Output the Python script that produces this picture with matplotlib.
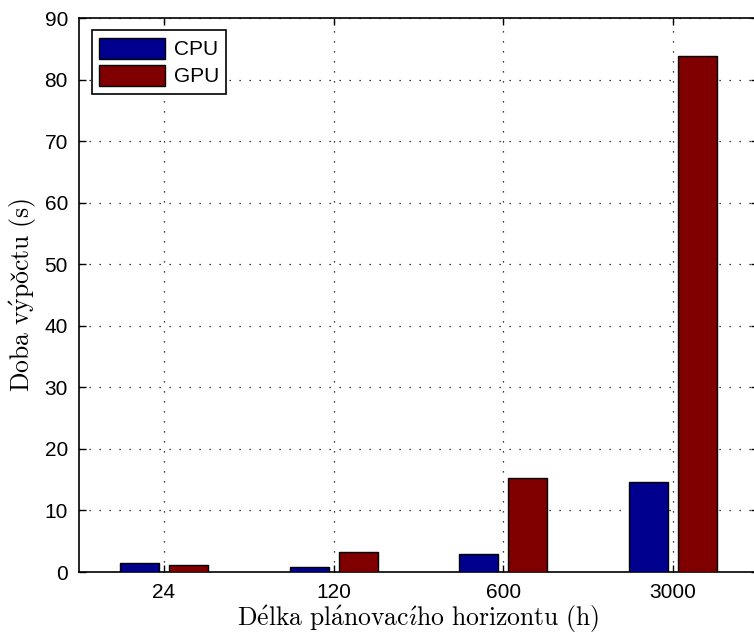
import numpy as np
import matplotlib
matplotlib.use('Agg')
import matplotlib.pyplot as plt

# Data
horizons = ['24', '120', '600', '3000']
cpu_times = [1.5, 0.85, 3.0, 14.6]
gpu_times = [1.1, 3.3, 15.3, 83.8]

plt.rcParams['font.family'] = ['Liberation Sans', 'DejaVu Sans']
plt.rcParams['mathtext.fontset'] = 'cm'

fig = plt.figure(figsize=(7.54, 6.34), dpi=100)
ax = fig.add_axes([79 / 754, 62 / 634, 679 / 754, 554 / 634])

x = np.arange(1, len(horizons) + 1)
w = 0.23
ax.bar(x - 0.144, cpu_times, w, color='#00008f', edgecolor='black', linewidth=1, label='CPU', zorder=3)
ax.bar(x + 0.144, gpu_times, w, color='#800000', edgecolor='black', linewidth=1, label='GPU', zorder=3)

ax.set_xlim(0.5, 4.5)
ax.set_ylim(0, 90)
ax.set_xticks(x)
ax.set_xticklabels(horizons)
ax.set_yticks(np.arange(0, 91, 10))
ax.tick_params(direction='in', top=True, right=True, labelsize=15, length=5, width=1, pad=8)
ax.grid(True, linestyle=(0, (1, 7)), color='black', linewidth=0.9, zorder=0)
for s in ax.spines.values():
    s.set_linewidth(1.2)

ax.set_xlabel(r'$\mathrm{D\acute{e}lka\ pl\acute{a}novac\acute{\imath}ho\ horizontu\ (h)}$', fontsize=18.5, labelpad=1)
ax.set_ylabel(r'$\mathrm{Doba\ v\acute{y}po\check{c}tu\ (s)}$', fontsize=18.5, labelpad=4)

leg = ax.legend(loc='upper left', fontsize=15, fancybox=False, edgecolor='black', framealpha=1,
                handlelength=3.2, handleheight=1.2, borderaxespad=0.6, labelspacing=0.25,
                handletextpad=0.4, borderpad=0.35)
leg.get_frame().set_linewidth(1.2)

fig.savefig('out.png', dpi=100)
